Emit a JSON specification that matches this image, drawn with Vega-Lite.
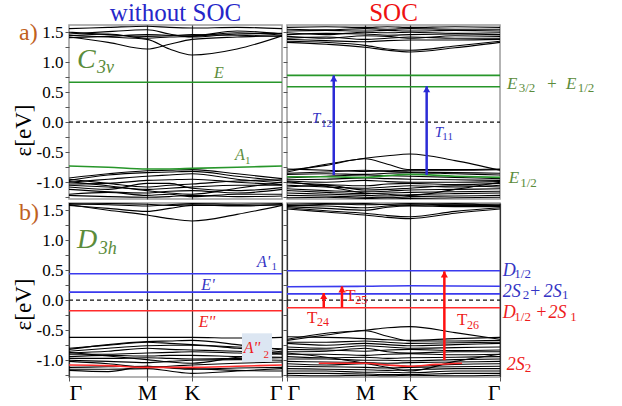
{
"$schema": "https://vega.github.io/schema/vega-lite/v6.json",
"padding": {"left": 11, "top": 0, "right": 10, "bottom": 5},
"config": {"view": {"stroke": "#9a9a9a", "strokeWidth": 1.5}, "axis": {"grid": false}},
"columns": 2,
"bounds": "flush",
"spacing": {"row": 4, "column": 5},
"datasets": {
"zero": [{"k": 0, "E": 0}, {"k": 1.577, "E": 0}],
"ptitles": [{"p":"TL","k":0.7885,"E":1.69,"t":"without SOC"},{"p":"TR","k":0.7885,"E":1.69,"t":"SOC"}],
"bands": [
{"p":"TL","b":"c1","k":0,"E":1.42},{"p":"TL","b":"c1","k":0.29,"E":1.33},{"p":"TL","b":"c1","k":0.577,"E":1.22},{"p":"TL","b":"c1","k":0.744,"E":1.30},{"p":"TL","b":"c1","k":0.911,"E":1.38},{"p":"TL","b":"c1","k":1.244,"E":1.42},{"p":"TL","b":"c1","k":1.577,"E":1.44},
{"p":"TL","b":"c2","k":0,"E":1.45},{"p":"TL","b":"c2","k":0.29,"E":1.42},{"p":"TL","b":"c2","k":0.577,"E":1.38},{"p":"TL","b":"c2","k":0.744,"E":1.22},{"p":"TL","b":"c2","k":0.911,"E":1.12},{"p":"TL","b":"c2","k":1.244,"E":1.22},{"p":"TL","b":"c2","k":1.577,"E":1.44},
{"p":"TL","b":"c3","k":0,"E":1.47},{"p":"TL","b":"c3","k":0.29,"E":1.51},{"p":"TL","b":"c3","k":0.577,"E":1.54},{"p":"TL","b":"c3","k":0.744,"E":1.47},{"p":"TL","b":"c3","k":0.911,"E":1.42},{"p":"TL","b":"c3","k":1.244,"E":1.47},{"p":"TL","b":"c3","k":1.577,"E":1.48},
{"p":"TL","b":"c4","k":0,"E":1.44},{"p":"TL","b":"c4","k":0.29,"E":1.47},{"p":"TL","b":"c4","k":0.577,"E":1.40},{"p":"TL","b":"c4","k":0.744,"E":1.42},{"p":"TL","b":"c4","k":0.911,"E":1.43},{"p":"TL","b":"c4","k":1.244,"E":1.49},{"p":"TL","b":"c4","k":1.577,"E":1.45},
{"p":"TL","b":"c5","k":0,"E":1.50},{"p":"TL","b":"c5","k":0.29,"E":1.46},{"p":"TL","b":"c5","k":0.577,"E":1.43},{"p":"TL","b":"c5","k":0.744,"E":1.44},{"p":"TL","b":"c5","k":0.911,"E":1.46},{"p":"TL","b":"c5","k":1.244,"E":1.45},{"p":"TL","b":"c5","k":1.577,"E":1.43},
{"p":"TL","b":"c6","k":0,"E":1.41},{"p":"TL","b":"c6","k":0.29,"E":1.43},{"p":"TL","b":"c6","k":0.577,"E":1.46},{"p":"TL","b":"c6","k":0.744,"E":1.45},{"p":"TL","b":"c6","k":0.911,"E":1.44},{"p":"TL","b":"c6","k":1.244,"E":1.52},{"p":"TL","b":"c6","k":1.577,"E":1.47},
{"p":"TL","b":"c7","k":0,"E":1.56},{"p":"TL","b":"c7","k":0.29,"E":1.58},{"p":"TL","b":"c7","k":0.577,"E":1.60},{"p":"TL","b":"c7","k":0.744,"E":1.58},{"p":"TL","b":"c7","k":0.911,"E":1.57},{"p":"TL","b":"c7","k":1.244,"E":1.58},{"p":"TL","b":"c7","k":1.577,"E":1.56},
{"p":"TL","b":"v1","k":0,"E":-0.93},{"p":"TL","b":"v1","k":0.29,"E":-0.86},{"p":"TL","b":"v1","k":0.577,"E":-0.81},{"p":"TL","b":"v1","k":0.744,"E":-0.80},{"p":"TL","b":"v1","k":0.911,"E":-0.79},{"p":"TL","b":"v1","k":1.244,"E":-0.86},{"p":"TL","b":"v1","k":1.577,"E":-0.94},
{"p":"TL","b":"v2","k":0,"E":-0.97},{"p":"TL","b":"v2","k":0.29,"E":-0.88},{"p":"TL","b":"v2","k":0.577,"E":-0.84},{"p":"TL","b":"v2","k":0.744,"E":-0.83},{"p":"TL","b":"v2","k":0.911,"E":-0.82},{"p":"TL","b":"v2","k":1.244,"E":-0.90},{"p":"TL","b":"v2","k":1.577,"E":-0.98},
{"p":"TL","b":"v3","k":0,"E":-1.00},{"p":"TL","b":"v3","k":0.29,"E":-0.95},{"p":"TL","b":"v3","k":0.577,"E":-0.90},{"p":"TL","b":"v3","k":0.744,"E":-0.88},{"p":"TL","b":"v3","k":0.911,"E":-0.86},{"p":"TL","b":"v3","k":1.244,"E":-0.95},{"p":"TL","b":"v3","k":1.577,"E":-1.01},
{"p":"TL","b":"v4","k":0,"E":-1.03},{"p":"TL","b":"v4","k":0.29,"E":-1.02},{"p":"TL","b":"v4","k":0.577,"E":-0.97},{"p":"TL","b":"v4","k":0.744,"E":-0.96},{"p":"TL","b":"v4","k":0.911,"E":-0.95},{"p":"TL","b":"v4","k":1.244,"E":-1.00},{"p":"TL","b":"v4","k":1.577,"E":-1.04},
{"p":"TL","b":"v5","k":0,"E":-0.95},{"p":"TL","b":"v5","k":0.29,"E":-1.02},{"p":"TL","b":"v5","k":0.577,"E":-1.08},{"p":"TL","b":"v5","k":0.744,"E":-1.05},{"p":"TL","b":"v5","k":0.911,"E":-1.03},{"p":"TL","b":"v5","k":1.244,"E":-0.98},{"p":"TL","b":"v5","k":1.577,"E":-0.96},
{"p":"TL","b":"v6","k":0,"E":-1.05},{"p":"TL","b":"v6","k":0.29,"E":-1.08},{"p":"TL","b":"v6","k":0.577,"E":-1.12},{"p":"TL","b":"v6","k":0.744,"E":-1.10},{"p":"TL","b":"v6","k":0.911,"E":-1.08},{"p":"TL","b":"v6","k":1.244,"E":-1.05},{"p":"TL","b":"v6","k":1.577,"E":-1.05},
{"p":"TL","b":"v7","k":0,"E":-1.08},{"p":"TL","b":"v7","k":0.29,"E":-1.12},{"p":"TL","b":"v7","k":0.577,"E":-1.02},{"p":"TL","b":"v7","k":0.744,"E":-1.02},{"p":"TL","b":"v7","k":0.911,"E":-1.10},{"p":"TL","b":"v7","k":1.244,"E":-1.14},{"p":"TL","b":"v7","k":1.577,"E":-1.09},
{"p":"TL","b":"v8","k":0,"E":-1.12},{"p":"TL","b":"v8","k":0.29,"E":-1.16},{"p":"TL","b":"v8","k":0.577,"E":-1.18},{"p":"TL","b":"v8","k":0.744,"E":-1.15},{"p":"TL","b":"v8","k":0.911,"E":-1.14},{"p":"TL","b":"v8","k":1.244,"E":-1.18},{"p":"TL","b":"v8","k":1.577,"E":-1.12},
{"p":"TL","b":"v9","k":0,"E":-1.20},{"p":"TL","b":"v9","k":0.29,"E":-1.17},{"p":"TL","b":"v9","k":0.577,"E":-1.22},{"p":"TL","b":"v9","k":0.744,"E":-1.20},{"p":"TL","b":"v9","k":0.911,"E":-1.24},{"p":"TL","b":"v9","k":1.244,"E":-1.20},{"p":"TL","b":"v9","k":1.577,"E":-1.20},
{"p":"TL","b":"v10","k":0,"E":-1.22},{"p":"TL","b":"v10","k":0.29,"E":-1.24},{"p":"TL","b":"v10","k":0.577,"E":-1.25},{"p":"TL","b":"v10","k":0.744,"E":-1.24},{"p":"TL","b":"v10","k":0.911,"E":-1.22},{"p":"TL","b":"v10","k":1.244,"E":-1.24},{"p":"TL","b":"v10","k":1.577,"E":-1.23},
{"p":"TL","b":"v11","k":0,"E":-0.99},{"p":"TL","b":"v11","k":0.29,"E":-1.06},{"p":"TL","b":"v11","k":0.577,"E":-1.14},{"p":"TL","b":"v11","k":0.744,"E":-1.18},{"p":"TL","b":"v11","k":0.911,"E":-1.20},{"p":"TL","b":"v11","k":1.244,"E":-1.10},{"p":"TL","b":"v11","k":1.577,"E":-1.00},
{"p":"TR","b":"c1","k":0,"E":1.33},{"p":"TR","b":"c1","k":0.29,"E":1.30},{"p":"TR","b":"c1","k":0.577,"E":1.25},{"p":"TR","b":"c1","k":0.744,"E":1.20},{"p":"TR","b":"c1","k":0.911,"E":1.17},{"p":"TR","b":"c1","k":1.244,"E":1.24},{"p":"TR","b":"c1","k":1.577,"E":1.33},
{"p":"TR","b":"c2","k":0,"E":1.35},{"p":"TR","b":"c2","k":0.29,"E":1.33},{"p":"TR","b":"c2","k":0.577,"E":1.28},{"p":"TR","b":"c2","k":0.744,"E":1.22},{"p":"TR","b":"c2","k":0.911,"E":1.20},{"p":"TR","b":"c2","k":1.244,"E":1.27},{"p":"TR","b":"c2","k":1.577,"E":1.35},
{"p":"TR","b":"c3","k":0,"E":1.38},{"p":"TR","b":"c3","k":0.29,"E":1.36},{"p":"TR","b":"c3","k":0.577,"E":1.34},{"p":"TR","b":"c3","k":0.744,"E":1.36},{"p":"TR","b":"c3","k":0.911,"E":1.37},{"p":"TR","b":"c3","k":1.244,"E":1.37},{"p":"TR","b":"c3","k":1.577,"E":1.38},
{"p":"TR","b":"c4","k":0,"E":1.40},{"p":"TR","b":"c4","k":0.29,"E":1.42},{"p":"TR","b":"c4","k":0.577,"E":1.38},{"p":"TR","b":"c4","k":0.744,"E":1.40},{"p":"TR","b":"c4","k":0.911,"E":1.42},{"p":"TR","b":"c4","k":1.244,"E":1.40},{"p":"TR","b":"c4","k":1.577,"E":1.40},
{"p":"TR","b":"c5","k":0,"E":1.43},{"p":"TR","b":"c5","k":0.29,"E":1.40},{"p":"TR","b":"c5","k":0.577,"E":1.44},{"p":"TR","b":"c5","k":0.744,"E":1.43},{"p":"TR","b":"c5","k":0.911,"E":1.40},{"p":"TR","b":"c5","k":1.244,"E":1.44},{"p":"TR","b":"c5","k":1.577,"E":1.43},
{"p":"TR","b":"c6","k":0,"E":1.46},{"p":"TR","b":"c6","k":0.29,"E":1.48},{"p":"TR","b":"c6","k":0.577,"E":1.47},{"p":"TR","b":"c6","k":0.744,"E":1.45},{"p":"TR","b":"c6","k":0.911,"E":1.46},{"p":"TR","b":"c6","k":1.244,"E":1.47},{"p":"TR","b":"c6","k":1.577,"E":1.46},
{"p":"TR","b":"c7","k":0,"E":1.49},{"p":"TR","b":"c7","k":0.29,"E":1.46},{"p":"TR","b":"c7","k":0.577,"E":1.50},{"p":"TR","b":"c7","k":0.744,"E":1.49},{"p":"TR","b":"c7","k":0.911,"E":1.50},{"p":"TR","b":"c7","k":1.244,"E":1.48},{"p":"TR","b":"c7","k":1.577,"E":1.49},
{"p":"TR","b":"c8","k":0,"E":1.52},{"p":"TR","b":"c8","k":0.29,"E":1.53},{"p":"TR","b":"c8","k":0.577,"E":1.52},{"p":"TR","b":"c8","k":0.744,"E":1.53},{"p":"TR","b":"c8","k":0.911,"E":1.52},{"p":"TR","b":"c8","k":1.244,"E":1.53},{"p":"TR","b":"c8","k":1.577,"E":1.52},
{"p":"TR","b":"c9","k":0,"E":1.55},{"p":"TR","b":"c9","k":0.29,"E":1.54},{"p":"TR","b":"c9","k":0.577,"E":1.56},{"p":"TR","b":"c9","k":0.744,"E":1.55},{"p":"TR","b":"c9","k":0.911,"E":1.56},{"p":"TR","b":"c9","k":1.244,"E":1.55},{"p":"TR","b":"c9","k":1.577,"E":1.55},
{"p":"TR","b":"c10","k":0,"E":1.58},{"p":"TR","b":"c10","k":0.29,"E":1.59},{"p":"TR","b":"c10","k":0.577,"E":1.58},{"p":"TR","b":"c10","k":0.744,"E":1.59},{"p":"TR","b":"c10","k":0.911,"E":1.58},{"p":"TR","b":"c10","k":1.244,"E":1.59},{"p":"TR","b":"c10","k":1.577,"E":1.58},
{"p":"TR","b":"s1","k":0,"E":-0.83},{"p":"TR","b":"s1","k":0.29,"E":-0.70},{"p":"TR","b":"s1","k":0.577,"E":-0.60},{"p":"TR","b":"s1","k":0.744,"E":-0.56},{"p":"TR","b":"s1","k":0.911,"E":-0.53},{"p":"TR","b":"s1","k":1.244,"E":-0.64},{"p":"TR","b":"s1","k":1.577,"E":-0.80},
{"p":"TR","b":"s2","k":0,"E":-0.80},{"p":"TR","b":"s2","k":0.29,"E":-0.72},{"p":"TR","b":"s2","k":0.577,"E":-0.61},{"p":"TR","b":"s2","k":0.744,"E":-0.70},{"p":"TR","b":"s2","k":0.911,"E":-0.79},{"p":"TR","b":"s2","k":1.244,"E":-0.79},{"p":"TR","b":"s2","k":1.577,"E":-0.78},
{"p":"TR","b":"s3","k":0,"E":-0.78},{"p":"TR","b":"s3","k":0.29,"E":-0.80},{"p":"TR","b":"s3","k":0.577,"E":-0.82},{"p":"TR","b":"s3","k":0.744,"E":-0.81},{"p":"TR","b":"s3","k":0.911,"E":-0.80},{"p":"TR","b":"s3","k":1.244,"E":-0.80},{"p":"TR","b":"s3","k":1.577,"E":-0.79},
{"p":"TR","b":"s4","k":0,"E":-0.85},{"p":"TR","b":"s4","k":0.29,"E":-0.83},{"p":"TR","b":"s4","k":0.577,"E":-0.80},{"p":"TR","b":"s4","k":0.744,"E":-0.82},{"p":"TR","b":"s4","k":0.911,"E":-0.83},{"p":"TR","b":"s4","k":1.244,"E":-0.84},{"p":"TR","b":"s4","k":1.577,"E":-0.85},
{"p":"TR","b":"s5","k":0,"E":-0.87},{"p":"TR","b":"s5","k":0.29,"E":-0.86},{"p":"TR","b":"s5","k":0.577,"E":-0.87},{"p":"TR","b":"s5","k":0.744,"E":-0.85},{"p":"TR","b":"s5","k":0.911,"E":-0.84},{"p":"TR","b":"s5","k":1.244,"E":-0.86},{"p":"TR","b":"s5","k":1.577,"E":-0.88},
{"p":"TR","b":"s6","k":0,"E":-0.93},{"p":"TR","b":"s6","k":0.29,"E":-0.90},{"p":"TR","b":"s6","k":0.577,"E":-0.88},{"p":"TR","b":"s6","k":0.744,"E":-0.89},{"p":"TR","b":"s6","k":0.911,"E":-0.90},{"p":"TR","b":"s6","k":1.244,"E":-0.92},{"p":"TR","b":"s6","k":1.577,"E":-0.94},
{"p":"TR","b":"s7","k":0,"E":-0.96},{"p":"TR","b":"s7","k":0.29,"E":-0.95},{"p":"TR","b":"s7","k":0.577,"E":-0.93},{"p":"TR","b":"s7","k":0.744,"E":-0.94},{"p":"TR","b":"s7","k":0.911,"E":-0.95},{"p":"TR","b":"s7","k":1.244,"E":-0.96},{"p":"TR","b":"s7","k":1.577,"E":-0.97},
{"p":"TR","b":"s8","k":0,"E":-0.98},{"p":"TR","b":"s8","k":0.29,"E":-1.00},{"p":"TR","b":"s8","k":0.577,"E":-0.97},{"p":"TR","b":"s8","k":0.744,"E":-0.99},{"p":"TR","b":"s8","k":0.911,"E":-1.00},{"p":"TR","b":"s8","k":1.244,"E":-1.00},{"p":"TR","b":"s8","k":1.577,"E":-0.99},
{"p":"TR","b":"s9","k":0,"E":-1.01},{"p":"TR","b":"s9","k":0.29,"E":-1.04},{"p":"TR","b":"s9","k":0.577,"E":-1.06},{"p":"TR","b":"s9","k":0.744,"E":-1.03},{"p":"TR","b":"s9","k":0.911,"E":-1.02},{"p":"TR","b":"s9","k":1.244,"E":-1.04},{"p":"TR","b":"s9","k":1.577,"E":-1.02},
{"p":"TR","b":"s10","k":0,"E":-1.05},{"p":"TR","b":"s10","k":0.29,"E":-1.08},{"p":"TR","b":"s10","k":0.577,"E":-1.10},{"p":"TR","b":"s10","k":0.744,"E":-1.08},{"p":"TR","b":"s10","k":0.911,"E":-1.06},{"p":"TR","b":"s10","k":1.244,"E":-1.08},{"p":"TR","b":"s10","k":1.577,"E":-1.05},
{"p":"TR","b":"s11","k":0,"E":-1.08},{"p":"TR","b":"s11","k":0.29,"E":-1.05},{"p":"TR","b":"s11","k":0.577,"E":-1.13},{"p":"TR","b":"s11","k":0.744,"E":-1.12},{"p":"TR","b":"s11","k":0.911,"E":-1.10},{"p":"TR","b":"s11","k":1.244,"E":-1.06},{"p":"TR","b":"s11","k":1.577,"E":-1.08},
{"p":"TR","b":"s12","k":0,"E":-1.11},{"p":"TR","b":"s12","k":0.29,"E":-1.14},{"p":"TR","b":"s12","k":0.577,"E":-1.16},{"p":"TR","b":"s12","k":0.744,"E":-1.15},{"p":"TR","b":"s12","k":0.911,"E":-1.13},{"p":"TR","b":"s12","k":1.244,"E":-1.12},{"p":"TR","b":"s12","k":1.577,"E":-1.11},
{"p":"TR","b":"s13","k":0,"E":-1.14},{"p":"TR","b":"s13","k":0.29,"E":-1.17},{"p":"TR","b":"s13","k":0.577,"E":-1.19},{"p":"TR","b":"s13","k":0.744,"E":-1.18},{"p":"TR","b":"s13","k":0.911,"E":-1.17},{"p":"TR","b":"s13","k":1.244,"E":-1.16},{"p":"TR","b":"s13","k":1.577,"E":-1.15},
{"p":"TR","b":"s14","k":0,"E":-1.18},{"p":"TR","b":"s14","k":0.29,"E":-1.20},{"p":"TR","b":"s14","k":0.577,"E":-1.22},{"p":"TR","b":"s14","k":0.744,"E":-1.23},{"p":"TR","b":"s14","k":0.911,"E":-1.21},{"p":"TR","b":"s14","k":1.244,"E":-1.19},{"p":"TR","b":"s14","k":1.577,"E":-1.18},
{"p":"TR","b":"s15","k":0,"E":-1.22},{"p":"TR","b":"s15","k":0.29,"E":-1.23},{"p":"TR","b":"s15","k":0.577,"E":-1.25},{"p":"TR","b":"s15","k":0.744,"E":-1.26},{"p":"TR","b":"s15","k":0.911,"E":-1.24},{"p":"TR","b":"s15","k":1.244,"E":-1.23},{"p":"TR","b":"s15","k":1.577,"E":-1.22},
{"p":"TR","b":"s16","k":0,"E":-0.99},{"p":"TR","b":"s16","k":0.29,"E":-1.07},{"p":"TR","b":"s16","k":0.577,"E":-1.18},{"p":"TR","b":"s16","k":0.744,"E":-1.20},{"p":"TR","b":"s16","k":0.911,"E":-1.22},{"p":"TR","b":"s16","k":1.244,"E":-1.12},{"p":"TR","b":"s16","k":1.577,"E":-1.00},
{"p":"TR","b":"s17","k":0,"E":-1.26},{"p":"TR","b":"s17","k":0.29,"E":-1.25},{"p":"TR","b":"s17","k":0.577,"E":-1.27},{"p":"TR","b":"s17","k":0.744,"E":-1.26},{"p":"TR","b":"s17","k":0.911,"E":-1.27},{"p":"TR","b":"s17","k":1.244,"E":-1.26},{"p":"TR","b":"s17","k":1.577,"E":-1.25},
{"p":"BL","b":"c1","k":0,"E":1.59},{"p":"BL","b":"c1","k":0.29,"E":1.50},{"p":"BL","b":"c1","k":0.577,"E":1.42},{"p":"BL","b":"c1","k":0.744,"E":1.36},{"p":"BL","b":"c1","k":0.911,"E":1.32},{"p":"BL","b":"c1","k":1.244,"E":1.43},{"p":"BL","b":"c1","k":1.577,"E":1.58},
{"p":"BL","b":"c2","k":0,"E":1.58},{"p":"BL","b":"c2","k":0.29,"E":1.53},{"p":"BL","b":"c2","k":0.577,"E":1.48},{"p":"BL","b":"c2","k":0.744,"E":1.53},{"p":"BL","b":"c2","k":0.911,"E":1.58},{"p":"BL","b":"c2","k":1.244,"E":1.58},{"p":"BL","b":"c2","k":1.577,"E":1.59},
{"p":"BL","b":"c3","k":0,"E":1.61},{"p":"BL","b":"c3","k":0.29,"E":1.59},{"p":"BL","b":"c3","k":0.577,"E":1.57},{"p":"BL","b":"c3","k":0.744,"E":1.59},{"p":"BL","b":"c3","k":0.911,"E":1.61},{"p":"BL","b":"c3","k":1.244,"E":1.60},{"p":"BL","b":"c3","k":1.577,"E":1.61},
{"p":"BL","b":"c4","k":0,"E":1.60},{"p":"BL","b":"c4","k":0.29,"E":1.61},{"p":"BL","b":"c4","k":0.577,"E":1.60},{"p":"BL","b":"c4","k":0.744,"E":1.58},{"p":"BL","b":"c4","k":0.911,"E":1.59},{"p":"BL","b":"c4","k":1.244,"E":1.57},{"p":"BL","b":"c4","k":1.577,"E":1.59},
{"p":"BL","b":"b1","k":0,"E":-0.62},{"p":"BL","b":"b1","k":0.29,"E":-0.62},{"p":"BL","b":"b1","k":0.577,"E":-0.62},{"p":"BL","b":"b1","k":0.744,"E":-0.62},{"p":"BL","b":"b1","k":0.911,"E":-0.62},{"p":"BL","b":"b1","k":1.244,"E":-0.63},{"p":"BL","b":"b1","k":1.577,"E":-0.62},
{"p":"BL","b":"b2","k":0,"E":-0.82},{"p":"BL","b":"b2","k":0.29,"E":-0.74},{"p":"BL","b":"b2","k":0.577,"E":-0.69},{"p":"BL","b":"b2","k":0.744,"E":-0.68},{"p":"BL","b":"b2","k":0.911,"E":-0.67},{"p":"BL","b":"b2","k":1.244,"E":-0.74},{"p":"BL","b":"b2","k":1.577,"E":-0.83},
{"p":"BL","b":"b3","k":0,"E":-0.80},{"p":"BL","b":"b3","k":0.29,"E":-0.75},{"p":"BL","b":"b3","k":0.577,"E":-0.70},{"p":"BL","b":"b3","k":0.744,"E":-0.72},{"p":"BL","b":"b3","k":0.911,"E":-0.74},{"p":"BL","b":"b3","k":1.244,"E":-0.78},{"p":"BL","b":"b3","k":1.577,"E":-0.81},
{"p":"BL","b":"b4","k":0,"E":-0.85},{"p":"BL","b":"b4","k":0.29,"E":-0.80},{"p":"BL","b":"b4","k":0.577,"E":-0.76},{"p":"BL","b":"b4","k":0.744,"E":-0.75},{"p":"BL","b":"b4","k":0.911,"E":-0.75},{"p":"BL","b":"b4","k":1.244,"E":-0.80},{"p":"BL","b":"b4","k":1.577,"E":-0.86},
{"p":"BL","b":"b5","k":0,"E":-0.88},{"p":"BL","b":"b5","k":0.29,"E":-0.85},{"p":"BL","b":"b5","k":0.577,"E":-0.80},{"p":"BL","b":"b5","k":0.744,"E":-0.82},{"p":"BL","b":"b5","k":0.911,"E":-0.83},{"p":"BL","b":"b5","k":1.244,"E":-0.85},{"p":"BL","b":"b5","k":1.577,"E":-0.88},
{"p":"BL","b":"b6","k":0,"E":-0.90},{"p":"BL","b":"b6","k":0.29,"E":-0.90},{"p":"BL","b":"b6","k":0.577,"E":-0.88},{"p":"BL","b":"b6","k":0.744,"E":-0.87},{"p":"BL","b":"b6","k":0.911,"E":-0.86},{"p":"BL","b":"b6","k":1.244,"E":-0.88},{"p":"BL","b":"b6","k":1.577,"E":-0.90},
{"p":"BL","b":"b7","k":0,"E":-0.94},{"p":"BL","b":"b7","k":0.29,"E":-0.92},{"p":"BL","b":"b7","k":0.577,"E":-0.93},{"p":"BL","b":"b7","k":0.744,"E":-0.92},{"p":"BL","b":"b7","k":0.911,"E":-0.92},{"p":"BL","b":"b7","k":1.244,"E":-0.94},{"p":"BL","b":"b7","k":1.577,"E":-0.95},
{"p":"BL","b":"b8","k":0,"E":-0.97},{"p":"BL","b":"b8","k":0.29,"E":-0.97},{"p":"BL","b":"b8","k":0.577,"E":-0.96},{"p":"BL","b":"b8","k":0.744,"E":-0.97},{"p":"BL","b":"b8","k":0.911,"E":-0.98},{"p":"BL","b":"b8","k":1.244,"E":-0.97},{"p":"BL","b":"b8","k":1.577,"E":-0.96},
{"p":"BL","b":"b9","k":0,"E":-1.00},{"p":"BL","b":"b9","k":0.29,"E":-1.02},{"p":"BL","b":"b9","k":0.577,"E":-1.04},{"p":"BL","b":"b9","k":0.744,"E":-1.02},{"p":"BL","b":"b9","k":0.911,"E":-1.00},{"p":"BL","b":"b9","k":1.244,"E":-0.99},{"p":"BL","b":"b9","k":1.577,"E":-1.00},
{"p":"BL","b":"b10","k":0,"E":-1.02},{"p":"BL","b":"b10","k":0.29,"E":-1.06},{"p":"BL","b":"b10","k":0.577,"E":-1.12},{"p":"BL","b":"b10","k":0.744,"E":-1.10},{"p":"BL","b":"b10","k":0.911,"E":-1.08},{"p":"BL","b":"b10","k":1.244,"E":-1.05},{"p":"BL","b":"b10","k":1.577,"E":-1.03},
{"p":"BL","b":"b11","k":0,"E":-1.12},{"p":"BL","b":"b11","k":0.29,"E":-1.11},{"p":"BL","b":"b11","k":0.577,"E":-1.10},{"p":"BL","b":"b11","k":0.744,"E":-1.13},{"p":"BL","b":"b11","k":0.911,"E":-1.15},{"p":"BL","b":"b11","k":1.244,"E":-1.13},{"p":"BL","b":"b11","k":1.577,"E":-1.12},
{"p":"BL","b":"b12","k":0,"E":-1.15},{"p":"BL","b":"b12","k":0.29,"E":-1.15},{"p":"BL","b":"b12","k":0.577,"E":-1.14},{"p":"BL","b":"b12","k":0.744,"E":-1.18},{"p":"BL","b":"b12","k":0.911,"E":-1.22},{"p":"BL","b":"b12","k":1.244,"E":-1.18},{"p":"BL","b":"b12","k":1.577,"E":-1.14},
{"p":"BL","b":"b13","k":0,"E":-1.17},{"p":"BL","b":"b13","k":0.29,"E":-1.19},{"p":"BL","b":"b13","k":0.577,"E":-1.10},{"p":"BL","b":"b13","k":0.744,"E":-1.12},{"p":"BL","b":"b13","k":0.911,"E":-1.14},{"p":"BL","b":"b13","k":1.244,"E":-1.17},{"p":"BL","b":"b13","k":1.577,"E":-1.18},
{"p":"BL","b":"b14","k":0,"E":-0.87},{"p":"BL","b":"b14","k":0.29,"E":-0.93},{"p":"BL","b":"b14","k":0.577,"E":-0.99},{"p":"BL","b":"b14","k":0.744,"E":-1.03},{"p":"BL","b":"b14","k":0.911,"E":-1.05},{"p":"BL","b":"b14","k":1.244,"E":-0.95},{"p":"BL","b":"b14","k":1.577,"E":-0.88},
{"p":"BR","b":"c1","k":0,"E":1.52},{"p":"BR","b":"c1","k":0.29,"E":1.47},{"p":"BR","b":"c1","k":0.577,"E":1.42},{"p":"BR","b":"c1","k":0.744,"E":1.38},{"p":"BR","b":"c1","k":0.911,"E":1.36},{"p":"BR","b":"c1","k":1.244,"E":1.45},{"p":"BR","b":"c1","k":1.577,"E":1.52},
{"p":"BR","b":"c2","k":0,"E":1.54},{"p":"BR","b":"c2","k":0.29,"E":1.49},{"p":"BR","b":"c2","k":0.577,"E":1.45},{"p":"BR","b":"c2","k":0.744,"E":1.41},{"p":"BR","b":"c2","k":0.911,"E":1.39},{"p":"BR","b":"c2","k":1.244,"E":1.48},{"p":"BR","b":"c2","k":1.577,"E":1.54},
{"p":"BR","b":"c3","k":0,"E":1.56},{"p":"BR","b":"c3","k":0.29,"E":1.53},{"p":"BR","b":"c3","k":0.577,"E":1.50},{"p":"BR","b":"c3","k":0.744,"E":1.55},{"p":"BR","b":"c3","k":0.911,"E":1.57},{"p":"BR","b":"c3","k":1.244,"E":1.56},{"p":"BR","b":"c3","k":1.577,"E":1.56},
{"p":"BR","b":"c4","k":0,"E":1.58},{"p":"BR","b":"c4","k":0.29,"E":1.57},{"p":"BR","b":"c4","k":0.577,"E":1.54},{"p":"BR","b":"c4","k":0.744,"E":1.57},{"p":"BR","b":"c4","k":0.911,"E":1.59},{"p":"BR","b":"c4","k":1.244,"E":1.58},{"p":"BR","b":"c4","k":1.577,"E":1.58},
{"p":"BR","b":"c5","k":0,"E":1.60},{"p":"BR","b":"c5","k":0.29,"E":1.61},{"p":"BR","b":"c5","k":0.577,"E":1.59},{"p":"BR","b":"c5","k":0.744,"E":1.60},{"p":"BR","b":"c5","k":0.911,"E":1.61},{"p":"BR","b":"c5","k":1.244,"E":1.60},{"p":"BR","b":"c5","k":1.577,"E":1.60},
{"p":"BR","b":"c6","k":0,"E":1.57},{"p":"BR","b":"c6","k":0.29,"E":1.60},{"p":"BR","b":"c6","k":0.577,"E":1.61},{"p":"BR","b":"c6","k":0.744,"E":1.59},{"p":"BR","b":"c6","k":0.911,"E":1.58},{"p":"BR","b":"c6","k":1.244,"E":1.61},{"p":"BR","b":"c6","k":1.577,"E":1.57},
{"p":"BR","b":"d1","k":0,"E":-0.65},{"p":"BR","b":"d1","k":0.29,"E":-0.55},{"p":"BR","b":"d1","k":0.577,"E":-0.50},{"p":"BR","b":"d1","k":0.744,"E":-0.46},{"p":"BR","b":"d1","k":0.911,"E":-0.44},{"p":"BR","b":"d1","k":1.244,"E":-0.54},{"p":"BR","b":"d1","k":1.577,"E":-0.65},
{"p":"BR","b":"d2","k":0,"E":-0.67},{"p":"BR","b":"d2","k":0.29,"E":-0.58},{"p":"BR","b":"d2","k":0.577,"E":-0.51},{"p":"BR","b":"d2","k":0.744,"E":-0.60},{"p":"BR","b":"d2","k":0.911,"E":-0.68},{"p":"BR","b":"d2","k":1.244,"E":-0.68},{"p":"BR","b":"d2","k":1.577,"E":-0.67},
{"p":"BR","b":"d3","k":0,"E":-0.61},{"p":"BR","b":"d3","k":0.29,"E":-0.62},{"p":"BR","b":"d3","k":0.577,"E":-0.64},{"p":"BR","b":"d3","k":0.744,"E":-0.66},{"p":"BR","b":"d3","k":0.911,"E":-0.67},{"p":"BR","b":"d3","k":1.244,"E":-0.64},{"p":"BR","b":"d3","k":1.577,"E":-0.62},
{"p":"BR","b":"d4","k":0,"E":-0.70},{"p":"BR","b":"d4","k":0.29,"E":-0.70},{"p":"BR","b":"d4","k":0.577,"E":-0.68},{"p":"BR","b":"d4","k":0.744,"E":-0.70},{"p":"BR","b":"d4","k":0.911,"E":-0.72},{"p":"BR","b":"d4","k":1.244,"E":-0.71},{"p":"BR","b":"d4","k":1.577,"E":-0.70},
{"p":"BR","b":"d5","k":0,"E":-0.72},{"p":"BR","b":"d5","k":0.29,"E":-0.75},{"p":"BR","b":"d5","k":0.577,"E":-0.72},{"p":"BR","b":"d5","k":0.744,"E":-0.74},{"p":"BR","b":"d5","k":0.911,"E":-0.76},{"p":"BR","b":"d5","k":1.244,"E":-0.74},{"p":"BR","b":"d5","k":1.577,"E":-0.72},
{"p":"BR","b":"d6","k":0,"E":-0.78},{"p":"BR","b":"d6","k":0.29,"E":-0.80},{"p":"BR","b":"d6","k":0.577,"E":-0.76},{"p":"BR","b":"d6","k":0.744,"E":-0.78},{"p":"BR","b":"d6","k":0.911,"E":-0.80},{"p":"BR","b":"d6","k":1.244,"E":-0.79},{"p":"BR","b":"d6","k":1.577,"E":-0.78},
{"p":"BR","b":"d7","k":0,"E":-0.82},{"p":"BR","b":"d7","k":0.29,"E":-0.83},{"p":"BR","b":"d7","k":0.577,"E":-0.85},{"p":"BR","b":"d7","k":0.744,"E":-0.83},{"p":"BR","b":"d7","k":0.911,"E":-0.82},{"p":"BR","b":"d7","k":1.244,"E":-0.84},{"p":"BR","b":"d7","k":1.577,"E":-0.83},
{"p":"BR","b":"d8","k":0,"E":-0.86},{"p":"BR","b":"d8","k":0.29,"E":-0.85},{"p":"BR","b":"d8","k":0.577,"E":-0.80},{"p":"BR","b":"d8","k":0.744,"E":-0.86},{"p":"BR","b":"d8","k":0.911,"E":-0.88},{"p":"BR","b":"d8","k":1.244,"E":-0.86},{"p":"BR","b":"d8","k":1.577,"E":-0.86},
{"p":"BR","b":"d9","k":0,"E":-0.90},{"p":"BR","b":"d9","k":0.29,"E":-0.90},{"p":"BR","b":"d9","k":0.577,"E":-0.92},{"p":"BR","b":"d9","k":0.744,"E":-0.90},{"p":"BR","b":"d9","k":0.911,"E":-0.89},{"p":"BR","b":"d9","k":1.244,"E":-0.91},{"p":"BR","b":"d9","k":1.577,"E":-0.90},
{"p":"BR","b":"d10","k":0,"E":-0.94},{"p":"BR","b":"d10","k":0.29,"E":-0.96},{"p":"BR","b":"d10","k":0.577,"E":-0.95},{"p":"BR","b":"d10","k":0.744,"E":-0.97},{"p":"BR","b":"d10","k":0.911,"E":-0.96},{"p":"BR","b":"d10","k":1.244,"E":-0.95},{"p":"BR","b":"d10","k":1.577,"E":-0.94},
{"p":"BR","b":"d11","k":0,"E":-0.98},{"p":"BR","b":"d11","k":0.29,"E":-0.98},{"p":"BR","b":"d11","k":0.577,"E":-1.00},{"p":"BR","b":"d11","k":0.744,"E":-1.00},{"p":"BR","b":"d11","k":0.911,"E":-1.01},{"p":"BR","b":"d11","k":1.244,"E":-0.99},{"p":"BR","b":"d11","k":1.577,"E":-0.98},
{"p":"BR","b":"d12","k":0,"E":-1.02},{"p":"BR","b":"d12","k":0.29,"E":-1.03},{"p":"BR","b":"d12","k":0.577,"E":-1.04},{"p":"BR","b":"d12","k":0.744,"E":-1.05},{"p":"BR","b":"d12","k":0.911,"E":-1.04},{"p":"BR","b":"d12","k":1.244,"E":-1.03},{"p":"BR","b":"d12","k":1.577,"E":-1.02},
{"p":"BR","b":"d13","k":0,"E":-1.06},{"p":"BR","b":"d13","k":0.29,"E":-1.08},{"p":"BR","b":"d13","k":0.577,"E":-1.06},{"p":"BR","b":"d13","k":0.744,"E":-1.08},{"p":"BR","b":"d13","k":0.911,"E":-1.10},{"p":"BR","b":"d13","k":1.244,"E":-1.07},{"p":"BR","b":"d13","k":1.577,"E":-1.06},
{"p":"BR","b":"d14","k":0,"E":-1.10},{"p":"BR","b":"d14","k":0.29,"E":-1.11},{"p":"BR","b":"d14","k":0.577,"E":-1.12},{"p":"BR","b":"d14","k":0.744,"E":-1.13},{"p":"BR","b":"d14","k":0.911,"E":-1.12},{"p":"BR","b":"d14","k":1.244,"E":-1.11},{"p":"BR","b":"d14","k":1.577,"E":-1.10},
{"p":"BR","b":"d15","k":0,"E":-1.14},{"p":"BR","b":"d15","k":0.29,"E":-1.15},{"p":"BR","b":"d15","k":0.577,"E":-1.16},{"p":"BR","b":"d15","k":0.744,"E":-1.17},{"p":"BR","b":"d15","k":0.911,"E":-1.16},{"p":"BR","b":"d15","k":1.244,"E":-1.14},{"p":"BR","b":"d15","k":1.577,"E":-1.14},
{"p":"BR","b":"d16","k":0,"E":-1.18},{"p":"BR","b":"d16","k":0.29,"E":-1.18},{"p":"BR","b":"d16","k":0.577,"E":-1.20},{"p":"BR","b":"d16","k":0.744,"E":-1.20},{"p":"BR","b":"d16","k":0.911,"E":-1.21},{"p":"BR","b":"d16","k":1.244,"E":-1.18},{"p":"BR","b":"d16","k":1.577,"E":-1.18},
{"p":"BR","b":"d17","k":0,"E":-1.22},{"p":"BR","b":"d17","k":0.29,"E":-1.22},{"p":"BR","b":"d17","k":0.577,"E":-1.23},{"p":"BR","b":"d17","k":0.744,"E":-1.24},{"p":"BR","b":"d17","k":0.911,"E":-1.24},{"p":"BR","b":"d17","k":1.244,"E":-1.22},{"p":"BR","b":"d17","k":1.577,"E":-1.22},
{"p":"BR","b":"d18","k":0,"E":-0.88},{"p":"BR","b":"d18","k":0.29,"E":-0.95},{"p":"BR","b":"d18","k":0.577,"E":-1.05},{"p":"BR","b":"d18","k":0.744,"E":-1.12},{"p":"BR","b":"d18","k":0.911,"E":-1.18},{"p":"BR","b":"d18","k":1.244,"E":-1.02},{"p":"BR","b":"d18","k":1.577,"E":-0.90},
{"p":"BR","b":"d19","k":0,"E":-1.25},{"p":"BR","b":"d19","k":0.29,"E":-1.26},{"p":"BR","b":"d19","k":0.577,"E":-1.25},{"p":"BR","b":"d19","k":0.744,"E":-1.26},{"p":"BR","b":"d19","k":0.911,"E":-1.25},{"p":"BR","b":"d19","k":1.244,"E":-1.26},{"p":"BR","b":"d19","k":1.577,"E":-1.25}
],
"levels": [
{"p":"TL","b":"E","g":"C3v","k":0,"E":0.665},{"p":"TL","b":"E","g":"C3v","k":1.577,"E":0.665},
{"p":"TL","b":"A1","g":"C3v","k":0,"E":-0.73},{"p":"TL","b":"A1","g":"C3v","k":0.29,"E":-0.75},{"p":"TL","b":"A1","g":"C3v","k":0.577,"E":-0.78},{"p":"TL","b":"A1","g":"C3v","k":0.744,"E":-0.78},{"p":"TL","b":"A1","g":"C3v","k":0.911,"E":-0.77},{"p":"TL","b":"A1","g":"C3v","k":1.244,"E":-0.75},{"p":"TL","b":"A1","g":"C3v","k":1.577,"E":-0.73},
{"p":"TR","b":"E32","g":"C3v","k":0,"E":0.78},{"p":"TR","b":"E32","g":"C3v","k":1.577,"E":0.78},
{"p":"TR","b":"E12u","g":"C3v","k":0,"E":0.59},{"p":"TR","b":"E12u","g":"C3v","k":1.577,"E":0.59},
{"p":"TR","b":"E12v","g":"C3v","k":0,"E":-0.91},{"p":"TR","b":"E12v","g":"C3v","k":0.29,"E":-0.91},{"p":"TR","b":"E12v","g":"C3v","k":0.577,"E":-0.92},{"p":"TR","b":"E12v","g":"C3v","k":0.744,"E":-0.89},{"p":"TR","b":"E12v","g":"C3v","k":0.911,"E":-0.87},{"p":"TR","b":"E12v","g":"C3v","k":1.244,"E":-0.90},{"p":"TR","b":"E12v","g":"C3v","k":1.577,"E":-0.92},
{"p":"BL","b":"A1p","g":"unocc","k":0,"E":0.44},{"p":"BL","b":"A1p","g":"unocc","k":1.577,"E":0.44},
{"p":"BL","b":"Ep","g":"unocc","k":0,"E":0.135},{"p":"BL","b":"Ep","g":"unocc","k":1.577,"E":0.135},
{"p":"BL","b":"Epp","g":"occ","k":0,"E":-0.175},{"p":"BL","b":"Epp","g":"occ","k":1.577,"E":-0.175},
{"p":"BL","b":"A2pp","g":"occ","k":0,"E":-1.08},{"p":"BL","b":"A2pp","g":"occ","k":0.29,"E":-1.09},{"p":"BL","b":"A2pp","g":"occ","k":0.577,"E":-1.12},{"p":"BL","b":"A2pp","g":"occ","k":0.744,"E":-1.12},{"p":"BL","b":"A2pp","g":"occ","k":0.911,"E":-1.12},{"p":"BL","b":"A2pp","g":"occ","k":1.244,"E":-1.10},{"p":"BL","b":"A2pp","g":"occ","k":1.577,"E":-1.08},
{"p":"BR","b":"D12","g":"unocc","k":0,"E":0.49},{"p":"BR","b":"D12","g":"unocc","k":1.577,"E":0.49},
{"p":"BR","b":"S2S1a","g":"unocc","k":0,"E":0.225},{"p":"BR","b":"S2S1a","g":"unocc","k":0.577,"E":0.232},{"p":"BR","b":"S2S1a","g":"unocc","k":0.911,"E":0.24},{"p":"BR","b":"S2S1a","g":"unocc","k":1.577,"E":0.232},
{"p":"BR","b":"S2S1b","g":"unocc","k":0,"E":0.105},{"p":"BR","b":"S2S1b","g":"unocc","k":1.577,"E":0.105},
{"p":"BR","b":"DS","g":"occ","k":0,"E":-0.125},{"p":"BR","b":"DS","g":"occ","k":1.577,"E":-0.125},
{"p":"BR","b":"S2","g":"occ","k":0.235,"E":-1.05},{"p":"BR","b":"S2","g":"occ","k":0.4,"E":-1.05},{"p":"BR","b":"S2","g":"occ","k":0.577,"E":-1.05},{"p":"BR","b":"S2","g":"occ","k":0.744,"E":-1.08},{"p":"BR","b":"S2","g":"occ","k":0.911,"E":-1.10},{"p":"BR","b":"S2","g":"occ","k":1.1,"E":-1.07},{"p":"BR","b":"S2","g":"occ","k":1.296,"E":-1.05}
],
"arrows": [
{"p":"TR","k":0.346,"E":-0.88,"E2":0.78},{"p":"TR","k":1.034,"E":-0.88,"E2":0.60},
{"p":"BR","k":0.272,"E":-0.125,"E2":0.12},{"p":"BR","k":0.407,"E":-0.125,"E2":0.23},{"p":"BR","k":1.165,"E":-1.0,"E2":0.48}
],
"heads": [
{"p":"TR","k":0.346,"E":0.78},{"p":"TR","k":1.034,"E":0.60},
{"p":"BR","k":0.272,"E":0.12},{"p":"BR","k":0.407,"E":0.23},{"p":"BR","k":1.165,"E":0.48}
],
"box": [{"p":"BL","k":1.281,"k2":1.503,"E":-0.552,"E2":-1.028}],
"tags": [{"p":"TL","k":-0.37,"E":1.37,"t":"a)"},{"p":"BL","k":-0.37,"E":1.34,"t":"b)"}],
"sym": [{"p":"TL","k":0.059,"E":0.90,"t":"C"},{"p":"BL","k":0.059,"E":0.865,"t":"D"}],
"symsub": [{"p":"TL","k":0.207,"E":0.817,"t":"3v"},{"p":"BL","k":0.22,"E":0.765,"t":"3h"}],
"lab": [
{"p":"TL","g":"C3v","k":1.074,"E":0.733,"t":"E"},{"p":"TL","g":"C3v","k":1.229,"E":-0.633,"t":"A"},
{"p":"BL","g":"unocc","k":1.392,"E":0.555,"t":"A'"},{"p":"BL","g":"unocc","k":0.98,"E":0.17,"t":"E'"},
{"p":"BL","g":"occ","k":0.96,"E":-0.44,"t":"E''"},{"p":"BL","g":"occ","k":1.293,"E":-0.885,"t":"A''"}
],
"labsub": [
{"p":"TL","g":"C3v","k":1.303,"E":-0.70,"t":"1"},
{"p":"BL","g":"unocc","k":1.50,"E":0.50,"t":"1"},{"p":"BL","g":"occ","k":1.44,"E":-0.97,"t":"2"}
],
"trans": [
{"p":"TR","k":0.185,"E":-0.017,"t":"T"},{"p":"TR","k":1.094,"E":-0.245,"t":"T"},
{"p":"BR","k":0.148,"E":-0.385,"t":"T"},{"p":"BR","k":0.432,"E":-0.013,"t":"T"},{"p":"BR","k":1.259,"E":-0.413,"t":"T"}
],
"transsub": [
{"p":"TR","k":0.252,"E":-0.08,"t":"12"},{"p":"TR","k":1.150,"E":-0.29,"t":"11"},
{"p":"BR","k":0.222,"E":-0.425,"t":"24"},{"p":"BR","k":0.506,"E":-0.07,"t":"25"},{"p":"BR","k":1.333,"E":-0.485,"t":"26"}
],
"side": [
{"p":"TR","g":"C3v","k":1.629,"E":0.56,"t":"E"},{"p":"TR","g":"C3v","k":1.917,"E":0.56,"t":"+"},{"p":"TR","g":"C3v","k":2.066,"E":0.56,"t":"E"},{"p":"TR","g":"C3v","k":1.641,"E":-1.02,"t":"E"},
{"p":"BR","g":"unocc","k":1.597,"E":0.403,"t":"D"},{"p":"BR","g":"unocc","k":1.597,"E":0.058,"t":"2S"},{"p":"BR","g":"unocc","k":1.791,"E":0.058,"t":"+"},{"p":"BR","g":"unocc","k":1.901,"E":0.058,"t":"2S"},
{"p":"BR","g":"occ","k":1.597,"E":-0.30,"t":"D"},{"p":"BR","g":"occ","k":1.838,"E":-0.30,"t":"+"},{"p":"BR","g":"occ","k":1.937,"E":-0.30,"t":"2S"},{"p":"BR","g":"occ","k":1.627,"E":-1.163,"t":"2S"}
],
"sidesub": [
{"p":"TR","g":"C3v","k":1.715,"E":0.508,"t":"3/2"},{"p":"TR","g":"C3v","k":2.152,"E":0.508,"t":"1/2"},{"p":"TR","g":"C3v","k":1.727,"E":-1.075,"t":"1/2"},
{"p":"BR","g":"unocc","k":1.683,"E":0.365,"t":"1/2"},{"p":"BR","g":"unocc","k":1.745,"E":0.02,"t":"2"},{"p":"BR","g":"unocc","k":2.036,"E":0.02,"t":"1"},
{"p":"BR","g":"occ","k":1.683,"E":-0.347,"t":"1/2"},{"p":"BR","g":"occ","k":2.097,"E":-0.347,"t":"1"},{"p":"BR","g":"occ","k":1.76,"E":-1.2,"t":"2"}
]
},
"concat": [
{
"width": 213, "height": 174,
"encoding": {
 "x": {"field": "k", "type": "quantitative", "scale": {"domain": [0, 1.577]}, "axis": {"values": [0.577, 0.911], "labels": false, "ticks": false, "domain": false, "title": null, "grid": true, "gridColor": "#333", "gridWidth": 1.2, "gridOpacity": 1}},
 "y": {"field": "E", "type": "quantitative", "scale": {"domain": [-1.28, 1.62]}, "axis": {"values": [-1.25,-1,-0.75,-0.5,-0.25,0,0.25,0.5,0.75,1,1.25,1.5], "labelExpr": "datum.value % 0.5 == 0 ? replace(format(datum.value, '.1f'), '−', '-') : ''", "title": "ε[eV]", "titleX": -34, "titleY": 105, "grid": false, "domain": false, "tickSize": 4, "tickColor": "#555", "labelFontSize": 17, "labelFont": "Liberation Serif", "labelPadding": 2, "labelColor": "black", "labelOverlap": false, "titleFont": "Liberation Serif", "titleFontSize": 23, "titleFontWeight": "normal", "titleColor": "black"}}
},
"layer": [
{"data": {"name": "bands"}, "transform": [{"filter": "datum.p=='TL'"}], "mark": {"type": "line", "interpolate": "monotone", "color": "black", "strokeWidth": 1.1, "clip": true}, "encoding": {"detail": {"field": "b"}}},
{"data": {"name": "levels"}, "transform": [{"filter": "datum.p=='TL'"}], "mark": {"type": "line", "interpolate": "monotone", "color": "#27962a", "strokeWidth": 1.6}, "encoding": {"detail": {"field": "b"}}},
{"data": {"name": "zero"}, "mark": {"type": "line", "color": "#111", "strokeDash": [4, 3], "strokeWidth": 1.2}},
{"data": {"name": "ptitles"}, "transform": [{"filter": "datum.p=='TL'"}], "mark": {"type": "text", "align": "center", "baseline": "alphabetic", "font": "Liberation Serif", "fontSize": 25, "color": "#2626c9"}, "encoding": {"text": {"field": "t"}}},
{"data": {"name": "tags"}, "transform": [{"filter": "datum.p=='TL'"}], "mark": {"type": "text", "align": "left", "baseline": "alphabetic", "font": "Liberation Serif", "fontSize": 24, "color": "#c0611e"}, "encoding": {"text": {"field": "t"}}},
{"data": {"name": "sym"}, "transform": [{"filter": "datum.p=='TL'"}], "mark": {"type": "text", "align": "left", "baseline": "alphabetic", "font": "Liberation Serif", "fontStyle": "italic", "fontSize": 28, "color": "#5b8c3b"}, "encoding": {"text": {"field": "t"}}},
{"data": {"name": "symsub"}, "transform": [{"filter": "datum.p=='TL'"}], "mark": {"type": "text", "align": "left", "baseline": "alphabetic", "font": "Liberation Serif", "fontStyle": "italic", "fontSize": 18, "color": "#5b8c3b"}, "encoding": {"text": {"field": "t"}}},
{"data": {"name": "lab"}, "transform": [{"filter": "datum.p=='TL'"}], "mark": {"type": "text", "align": "left", "baseline": "alphabetic", "font": "Liberation Serif", "fontStyle": "italic", "fontSize": 16, "color": "#5b8c3b"}, "encoding": {"text": {"field": "t"}}},
{"data": {"name": "labsub"}, "transform": [{"filter": "datum.p=='TL'"}], "mark": {"type": "text", "align": "left", "baseline": "alphabetic", "font": "Liberation Serif", "fontSize": 11, "color": "#5b8c3b"}, "encoding": {"text": {"field": "t"}}}
]
},
{
"width": 213, "height": 174,
"encoding": {
 "x": {"field": "k", "type": "quantitative", "scale": {"domain": [0, 1.577]}, "axis": {"values": [0.577, 0.911], "labels": false, "ticks": false, "domain": false, "title": null, "grid": true, "gridColor": "#333", "gridWidth": 1.2, "gridOpacity": 1}},
 "y": {"field": "E", "type": "quantitative", "scale": {"domain": [-1.28, 1.62]}, "axis": {"values": [-1.25,-1,-0.75,-0.5,-0.25,0,0.25,0.5,0.75,1,1.25,1.5], "labels": false, "title": null, "grid": false, "domain": false, "tickSize": 4, "tickColor": "#555"}}
},
"layer": [
{"data": {"name": "bands"}, "transform": [{"filter": "datum.p=='TR'"}], "mark": {"type": "line", "interpolate": "monotone", "color": "black", "strokeWidth": 1.1, "clip": true}, "encoding": {"detail": {"field": "b"}}},
{"data": {"name": "levels"}, "transform": [{"filter": "datum.p=='TR'"}], "mark": {"type": "line", "interpolate": "monotone", "color": "#27962a", "strokeWidth": 1.6}, "encoding": {"detail": {"field": "b"}}},
{"data": {"name": "zero"}, "mark": {"type": "line", "color": "#111", "strokeDash": [4, 3], "strokeWidth": 1.2}},
{"data": {"name": "ptitles"}, "transform": [{"filter": "datum.p=='TR'"}], "mark": {"type": "text", "align": "center", "baseline": "alphabetic", "font": "Liberation Serif", "fontSize": 25, "color": "#ee1111"}, "encoding": {"text": {"field": "t"}}},
{"data": {"name": "arrows"}, "transform": [{"filter": "datum.p=='TR'"}], "mark": {"type": "rule", "color": "#2b2bd6", "strokeWidth": 2.5}, "encoding": {"y2": {"field": "E2"}}},
{"data": {"name": "heads"}, "transform": [{"filter": "datum.p=='TR'"}], "mark": {"type": "point", "shape": "triangle-up", "filled": true, "opacity": 1, "size": 50, "color": "#2b2bd6", "yOffset": 3}},
{"data": {"name": "trans"}, "transform": [{"filter": "datum.p=='TR'"}], "mark": {"type": "text", "align": "left", "baseline": "alphabetic", "font": "Liberation Serif", "fontStyle": "italic", "fontSize": 15, "color": "#3434c4"}, "encoding": {"text": {"field": "t"}}},
{"data": {"name": "transsub"}, "transform": [{"filter": "datum.p=='TR'"}], "mark": {"type": "text", "align": "left", "baseline": "alphabetic", "font": "Liberation Serif", "fontSize": 11, "color": "#3434c4"}, "encoding": {"text": {"field": "t"}}},
{"data": {"name": "side"}, "transform": [{"filter": "datum.p=='TR'"}], "mark": {"type": "text", "align": "left", "baseline": "alphabetic", "font": "Liberation Serif", "fontStyle": "italic", "fontSize": 17, "color": "#5b8c3b"}, "encoding": {"text": {"field": "t"}}},
{"data": {"name": "sidesub"}, "transform": [{"filter": "datum.p=='TR'"}], "mark": {"type": "text", "align": "left", "baseline": "alphabetic", "font": "Liberation Serif", "fontSize": 13, "color": "#5b8c3b"}, "encoding": {"text": {"field": "t"}}}
]
},
{
"width": 213, "height": 174,
"encoding": {
 "x": {"field": "k", "type": "quantitative", "scale": {"domain": [0, 1.577]}, "axis": {"values": [0, 0.577, 0.911, 1.577], "labelExpr": "datum.value < 0.3 || datum.value > 1.5 ? 'Γ' : (datum.value < 0.7 ? 'M' : 'K')", "title": null, "grid": true, "gridColor": "#333", "gridWidth": 1.2, "gridOpacity": 1, "domain": false, "tickSize": 4, "tickColor": "#555", "labelFont": "Liberation Serif", "labelFontSize": 22, "labelPadding": 1, "labelFlush": true, "labelOverlap": false, "labelColor": "black"}},
 "y": {"field": "E", "type": "quantitative", "scale": {"domain": [-1.28, 1.62]}, "axis": {"values": [-1.25,-1,-0.75,-0.5,-0.25,0,0.25,0.5,0.75,1,1.25,1.5], "labelExpr": "datum.value % 0.5 == 0 ? replace(format(datum.value, '.1f'), '−', '-') : ''", "title": "ε[eV]", "titleX": -34, "titleY": 101, "grid": false, "domain": false, "tickSize": 4, "tickColor": "#555", "labelFontSize": 17, "labelFont": "Liberation Serif", "labelPadding": 2, "labelColor": "black", "labelOverlap": false, "titleFont": "Liberation Serif", "titleFontSize": 23, "titleFontWeight": "normal", "titleColor": "black"}}
},
"layer": [
{"data": {"name": "bands"}, "transform": [{"filter": "datum.p=='BL'"}], "mark": {"type": "line", "interpolate": "monotone", "color": "black", "strokeWidth": 1.1, "clip": true}, "encoding": {"detail": {"field": "b"}}},
{"data": {"name": "levels"}, "transform": [{"filter": "datum.p=='BL' && datum.g=='unocc'"}], "mark": {"type": "line", "interpolate": "monotone", "color": "#3a3aee", "strokeWidth": 1.6}, "encoding": {"detail": {"field": "b"}}},
{"data": {"name": "levels"}, "transform": [{"filter": "datum.p=='BL' && datum.g=='occ'"}], "mark": {"type": "line", "interpolate": "monotone", "color": "#ff2b2b", "strokeWidth": 1.6}, "encoding": {"detail": {"field": "b"}}},
{"data": {"name": "zero"}, "mark": {"type": "line", "color": "#111", "strokeDash": [4, 3], "strokeWidth": 1.2}},
{"data": {"name": "box"}, "transform": [{"filter": "datum.p=='BL'"}], "mark": {"type": "rect", "color": "#dce6f2", "opacity": 1}, "encoding": {"x2": {"field": "k2"}, "y2": {"field": "E2"}}},
{"data": {"name": "tags"}, "transform": [{"filter": "datum.p=='BL'"}], "mark": {"type": "text", "align": "left", "baseline": "alphabetic", "font": "Liberation Serif", "fontSize": 24, "color": "#c0611e"}, "encoding": {"text": {"field": "t"}}},
{"data": {"name": "sym"}, "transform": [{"filter": "datum.p=='BL'"}], "mark": {"type": "text", "align": "left", "baseline": "alphabetic", "font": "Liberation Serif", "fontStyle": "italic", "fontSize": 28, "color": "#5b8c3b"}, "encoding": {"text": {"field": "t"}}},
{"data": {"name": "symsub"}, "transform": [{"filter": "datum.p=='BL'"}], "mark": {"type": "text", "align": "left", "baseline": "alphabetic", "font": "Liberation Serif", "fontStyle": "italic", "fontSize": 18, "color": "#5b8c3b"}, "encoding": {"text": {"field": "t"}}},
{"data": {"name": "lab"}, "transform": [{"filter": "datum.p=='BL' && datum.g=='unocc'"}], "mark": {"type": "text", "align": "left", "baseline": "alphabetic", "font": "Liberation Serif", "fontStyle": "italic", "fontSize": 16, "color": "#3434c4"}, "encoding": {"text": {"field": "t"}}},
{"data": {"name": "lab"}, "transform": [{"filter": "datum.p=='BL' && datum.g=='occ'"}], "mark": {"type": "text", "align": "left", "baseline": "alphabetic", "font": "Liberation Serif", "fontStyle": "italic", "fontSize": 16, "color": "#ee1c1c"}, "encoding": {"text": {"field": "t"}}},
{"data": {"name": "labsub"}, "transform": [{"filter": "datum.p=='BL' && datum.g=='unocc'"}], "mark": {"type": "text", "align": "left", "baseline": "alphabetic", "font": "Liberation Serif", "fontSize": 11, "color": "#3434c4"}, "encoding": {"text": {"field": "t"}}},
{"data": {"name": "labsub"}, "transform": [{"filter": "datum.p=='BL' && datum.g=='occ'"}], "mark": {"type": "text", "align": "left", "baseline": "alphabetic", "font": "Liberation Serif", "fontSize": 11, "color": "#ee1c1c"}, "encoding": {"text": {"field": "t"}}}
]
},
{
"width": 213, "height": 174,
"encoding": {
 "x": {"field": "k", "type": "quantitative", "scale": {"domain": [0, 1.577]}, "axis": {"values": [0, 0.577, 0.911, 1.577], "labelExpr": "datum.value < 0.3 || datum.value > 1.5 ? 'Γ' : (datum.value < 0.7 ? 'M' : 'K')", "title": null, "grid": true, "gridColor": "#333", "gridWidth": 1.2, "gridOpacity": 1, "domain": false, "tickSize": 4, "tickColor": "#555", "labelFont": "Liberation Serif", "labelFontSize": 22, "labelPadding": 1, "labelFlush": true, "labelOverlap": false, "labelColor": "black"}},
 "y": {"field": "E", "type": "quantitative", "scale": {"domain": [-1.28, 1.62]}, "axis": {"values": [-1.25,-1,-0.75,-0.5,-0.25,0,0.25,0.5,0.75,1,1.25,1.5], "labels": false, "title": null, "grid": false, "domain": false, "tickSize": 4, "tickColor": "#555"}}
},
"layer": [
{"data": {"name": "bands"}, "transform": [{"filter": "datum.p=='BR'"}], "mark": {"type": "line", "interpolate": "monotone", "color": "black", "strokeWidth": 1.1, "clip": true}, "encoding": {"detail": {"field": "b"}}},
{"data": {"name": "levels"}, "transform": [{"filter": "datum.p=='BR' && datum.g=='unocc'"}], "mark": {"type": "line", "interpolate": "monotone", "color": "#3a3aee", "strokeWidth": 1.6}, "encoding": {"detail": {"field": "b"}}},
{"data": {"name": "levels"}, "transform": [{"filter": "datum.p=='BR' && datum.g=='occ'"}], "mark": {"type": "line", "interpolate": "monotone", "color": "#ff2b2b", "strokeWidth": 1.6}, "encoding": {"detail": {"field": "b"}}},
{"data": {"name": "zero"}, "mark": {"type": "line", "color": "#111", "strokeDash": [4, 3], "strokeWidth": 1.2}},
{"data": {"name": "arrows"}, "transform": [{"filter": "datum.p=='BR'"}], "mark": {"type": "rule", "color": "#ff1010", "strokeWidth": 2.5}, "encoding": {"y2": {"field": "E2"}}},
{"data": {"name": "heads"}, "transform": [{"filter": "datum.p=='BR'"}], "mark": {"type": "point", "shape": "triangle-up", "filled": true, "opacity": 1, "size": 50, "color": "#ff1010", "yOffset": 3}},
{"data": {"name": "trans"}, "transform": [{"filter": "datum.p=='BR'"}], "mark": {"type": "text", "align": "left", "baseline": "alphabetic", "font": "Liberation Serif", "fontSize": 17, "color": "#ee1c1c"}, "encoding": {"text": {"field": "t"}}},
{"data": {"name": "transsub"}, "transform": [{"filter": "datum.p=='BR'"}], "mark": {"type": "text", "align": "left", "baseline": "alphabetic", "font": "Liberation Serif", "fontSize": 12, "color": "#ee1c1c"}, "encoding": {"text": {"field": "t"}}},
{"data": {"name": "side"}, "transform": [{"filter": "datum.p=='BR' && datum.g=='unocc'"}], "mark": {"type": "text", "align": "left", "baseline": "alphabetic", "font": "Liberation Serif", "fontStyle": "italic", "fontSize": 18, "color": "#3434c4"}, "encoding": {"text": {"field": "t"}}},
{"data": {"name": "side"}, "transform": [{"filter": "datum.p=='BR' && datum.g=='occ'"}], "mark": {"type": "text", "align": "left", "baseline": "alphabetic", "font": "Liberation Serif", "fontStyle": "italic", "fontSize": 18, "color": "#ee1c1c"}, "encoding": {"text": {"field": "t"}}},
{"data": {"name": "sidesub"}, "transform": [{"filter": "datum.p=='BR' && datum.g=='unocc'"}], "mark": {"type": "text", "align": "left", "baseline": "alphabetic", "font": "Liberation Serif", "fontSize": 13, "color": "#3434c4"}, "encoding": {"text": {"field": "t"}}},
{"data": {"name": "sidesub"}, "transform": [{"filter": "datum.p=='BR' && datum.g=='occ'"}], "mark": {"type": "text", "align": "left", "baseline": "alphabetic", "font": "Liberation Serif", "fontSize": 13, "color": "#ee1c1c"}, "encoding": {"text": {"field": "t"}}}
]
}
]
}
